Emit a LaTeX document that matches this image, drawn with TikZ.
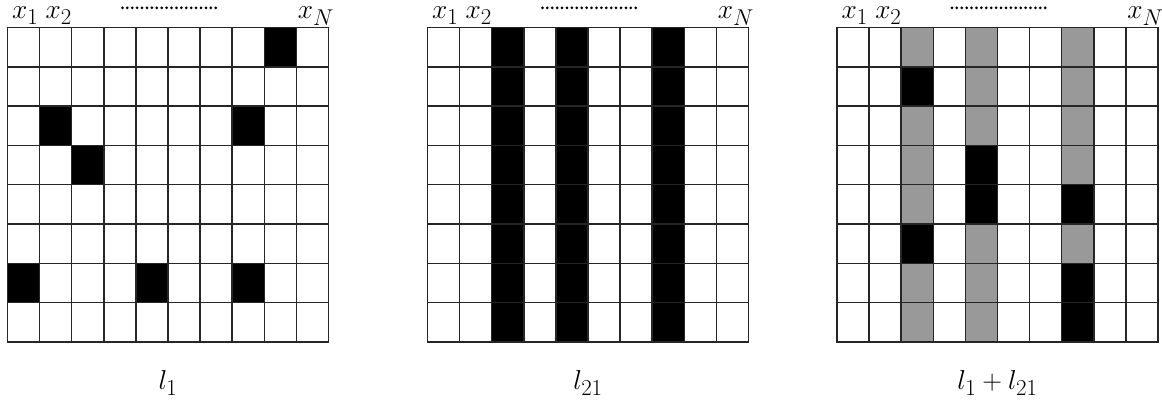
\documentclass[tikz,border=0pt]{standalone}
\usetikzlibrary{positioning}
\begin{document}
\begin{tikzpicture}[
x=1pt, y=-1pt,
panel/.style={x=32.1pt, y=-39.3pt},
hit/.style={fill=black},
band/.style={fill=black!40},
gridline/.style={draw=black!85, line width=1.5pt, line cap=rect},
lbl/.style={font=\Huge, scale=1.1, inner sep=0pt, anchor=base}
]
\useasboundingbox (0,0) rectangle (1162,403);

% l_1
\begin{scope}[shift={(7.5,27.5)}, panel]
\foreach \c/\r in {8/0, 1/2, 7/2, 2/3, 0/6, 4/6, 7/6}
  \path[hit] (\c,\r) rectangle +(1,1);
\end{scope}

% l_21
\begin{scope}[shift={(427.5,27.5)}, panel]
\foreach \c in {2,4,7}
  \path[hit] (\c,0) rectangle +(1,8);
\end{scope}

% l_1 + l_21
\begin{scope}[shift={(837,27.5)}, panel]
\foreach \c in {2,4,7}
  \path[band] (\c,0) rectangle +(1,8);
\foreach \c/\r in {2/1, 2/5, 4/3, 4/4, 7/4, 7/6, 7/7}
  \path[hit] (\c,\r) rectangle +(1,1);
\end{scope}

% grids, headers and captions
\foreach \gx/\gname/\gtext in {7.5/left/{l_1}, 427.5/mid/{l_{21}}, 837/right/{l_1+l_{21}}} {
  \begin{scope}[shift={(\gx,27.5)}, panel]
    \foreach \i in {0,...,10} \draw[gridline] (\i,0) -- (\i,8);
    \foreach \j in {0,...,8} \draw[gridline] (0,\j) -- (10,\j);
    \node[lbl] (\gname-x1) at (0.55,-0.22) {$x_1$};
    \node[lbl] (\gname-x2) at (1.6,-0.22) {$x_2$};
    \node[lbl] (\gname-xN) at (9.61,-0.22) {$x_N$};
    \foreach \k in {0,...,19} \fill (3.58+\k*0.153,-0.5) circle (1.5pt);
    \node[lbl] (\gname-cap) at (5,9.22) {$\gtext$};
  \end{scope}
}
\end{tikzpicture}
\end{document}
